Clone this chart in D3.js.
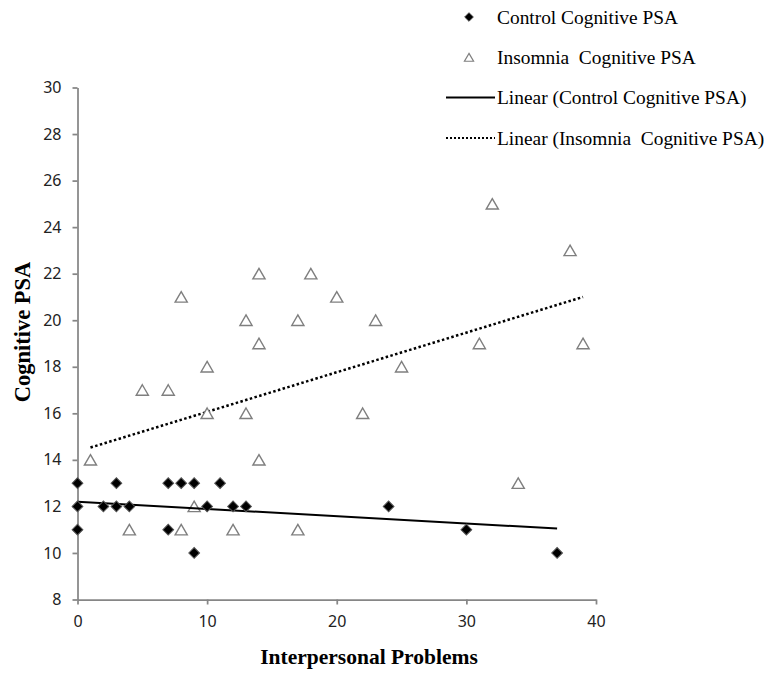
<!DOCTYPE html>
<html>
<head>
<meta charset="utf-8">
<script src="https://cdn.jsdelivr.net/npm/d3@7"></script>
<style>
  body { margin: 0; background: #fff; }
  svg { display: block; }
  text { white-space: pre; }
</style>
</head>
<body>
<svg width="773" height="673"></svg>
<script>
// data: [interpersonal problems, cognitive PSA]
var controlPoints = [
    [0, 13], [0, 12], [0, 11], [2, 12], [3, 13], [3, 12], [4, 12],
    [7, 13], [7, 11], [8, 13], [9, 13], [9, 10], [10, 12], [11, 13],
    [12, 12], [13, 12], [24, 12], [30, 11], [37, 10]
];
var insomniaPoints = [
    [1, 14], [4, 11], [5, 17], [7, 17], [8, 21], [8, 11], [9, 12],
    [10, 18], [10, 16], [12, 11], [13, 20], [13, 16], [14, 22], [14, 19],
    [14, 14], [17, 20], [17, 11], [18, 22], [20, 21], [22, 16], [23, 20],
    [25, 18], [31, 19], [32, 25], [34, 13], [38, 23], [39, 19]
];
// trendline ends as drawn in the picture
var controlTrend = [[0, 12.2], [37, 11.05]];
var insomniaTrend = [[1, 14.53], [39, 21.0]];

var xTicks = [0, 10, 20, 30, 40];
var yTicks = [8, 10, 12, 14, 16, 18, 20, 22, 24, 26, 28, 30];

var legendItems = [
    {label: "Control Cognitive PSA", type: "diamond"},
    {label: "Insomnia  Cognitive PSA", type: "triangle"},
    {label: "Linear (Control Cognitive PSA)", type: "solid"},
    {label: "Linear (Insomnia  Cognitive PSA)", type: "dotted"}
];

var svg = d3.select("svg");

var x = d3.scaleLinear().domain([0, 40]).range([77.5, 596]);
var y = d3.scaleLinear().domain([8, 30]).range([599.5, 87.5]);

var axisColor = "#868686";
var tickFont = "'Noto Sans', 'Open Sans', sans-serif";
var serif = "'Liberation Serif', 'Times New Roman', serif";

// x axis
var gx = svg.append("g")
    .attr("transform", "translate(0," + y(8) + ")")
    .call(d3.axisBottom(x).tickValues(xTicks).tickSize(5).tickPadding(11).tickSizeOuter(0));
gx.select(".domain").attr("stroke", axisColor).attr("stroke-width", 1.75);
gx.selectAll(".tick line").attr("stroke", axisColor).attr("stroke-width", 1.75);
gx.selectAll(".tick text").attr("fill", "#222").style("font-family", tickFont).style("font-size", "16px");

// y axis
var gy = svg.append("g")
    .attr("transform", "translate(" + x(0) + ",0)")
    .call(d3.axisLeft(y).tickValues(yTicks).tickSize(5).tickPadding(11).tickSizeOuter(0));
gy.select(".domain").attr("stroke", axisColor).attr("stroke-width", 1.75);
gy.selectAll(".tick line").attr("stroke", axisColor).attr("stroke-width", 1.75);
gy.selectAll(".tick text").attr("fill", "#222").style("font-family", tickFont).style("font-size", "16px");

// axis titles
svg.append("text")
    .attr("x", 369).attr("y", 664)
    .attr("text-anchor", "middle")
    .style("font-family", serif).style("font-weight", "bold").style("font-size", "21.5px")
    .text("Interpersonal Problems");

svg.append("text")
    .attr("transform", "translate(30,332) rotate(-90)")
    .attr("text-anchor", "middle")
    .style("font-family", serif).style("font-weight", "bold").style("font-size", "22.5px")
    .text("Cognitive PSA");

var diamond = d3.symbol().type(d3.symbolSquare).size(58);
var triangle = d3.symbol().type(d3.symbolTriangle).size(64);

// trend lines
var line = d3.line()
    .x(function(d) { return x(d[0]); })
    .y(function(d) { return y(d[1]); });

svg.append("path")
    .datum(insomniaTrend)
    .attr("fill", "none")
    .attr("stroke", "#000")
    .attr("stroke-width", 2.5)
    .attr("stroke-dasharray", "2.5,2.4")
    .attr("d", line);

// insomnia triangles
svg.append("g").selectAll("path")
    .data(insomniaPoints)
    .enter().append("path")
    .attr("d", triangle)
    .attr("transform", function(d) { return "translate(" + x(d[0]) + "," + (y(d[1]) + 1.7) + ")"; })
    .attr("fill", "#fff")
    .attr("stroke", "#7f7f7f")
    .attr("stroke-width", 1.4);

svg.append("path")
    .datum(controlTrend)
    .attr("fill", "none")
    .attr("stroke", "#000")
    .attr("stroke-width", 2)
    .attr("d", line);

// control diamonds
svg.append("g").selectAll("path")
    .data(controlPoints)
    .enter().append("path")
    .attr("d", diamond)
    .attr("transform", function(d) { return "translate(" + x(d[0]) + "," + y(d[1]) + ") rotate(45)"; })
    .attr("fill", "#000")
    .attr("stroke", "#555")
    .attr("stroke-width", 1);

// legend
var legend = svg.append("g");
var rows = legend.selectAll("g")
    .data(legendItems)
    .enter().append("g")
    .attr("transform", function(d, i) { return "translate(0," + (17 + i * 40.3) + ")"; });

rows.append("text")
    .attr("x", 497).attr("y", 0).attr("dy", "0.34em")
    .style("font-family", serif).style("font-size", "19.4px")
    .text(function(d) { return d.label; });

rows.filter(function(d) { return d.type === "diamond"; })
    .append("path")
    .attr("d", d3.symbol().type(d3.symbolSquare).size(38))
    .attr("transform", "translate(469,0) rotate(45)")
    .attr("fill", "#000")
    .attr("stroke", "#444")
    .attr("stroke-width", 0.8);

rows.filter(function(d) { return d.type === "triangle"; })
    .append("path")
    .attr("d", d3.symbol().type(d3.symbolTriangle).size(36))
    .attr("transform", "translate(469,1.3)")
    .attr("fill", "#fff")
    .attr("stroke", "#7f7f7f")
    .attr("stroke-width", 1.2);

rows.filter(function(d) { return d.type === "solid"; })
    .append("line")
    .attr("x1", 446).attr("x2", 495)
    .attr("stroke", "#000").attr("stroke-width", 2);

rows.filter(function(d) { return d.type === "dotted"; })
    .append("line")
    .attr("x1", 446).attr("x2", 495)
    .attr("stroke", "#000").attr("stroke-width", 2)
    .attr("stroke-dasharray", "2,2");
</script>
</body>
</html>
